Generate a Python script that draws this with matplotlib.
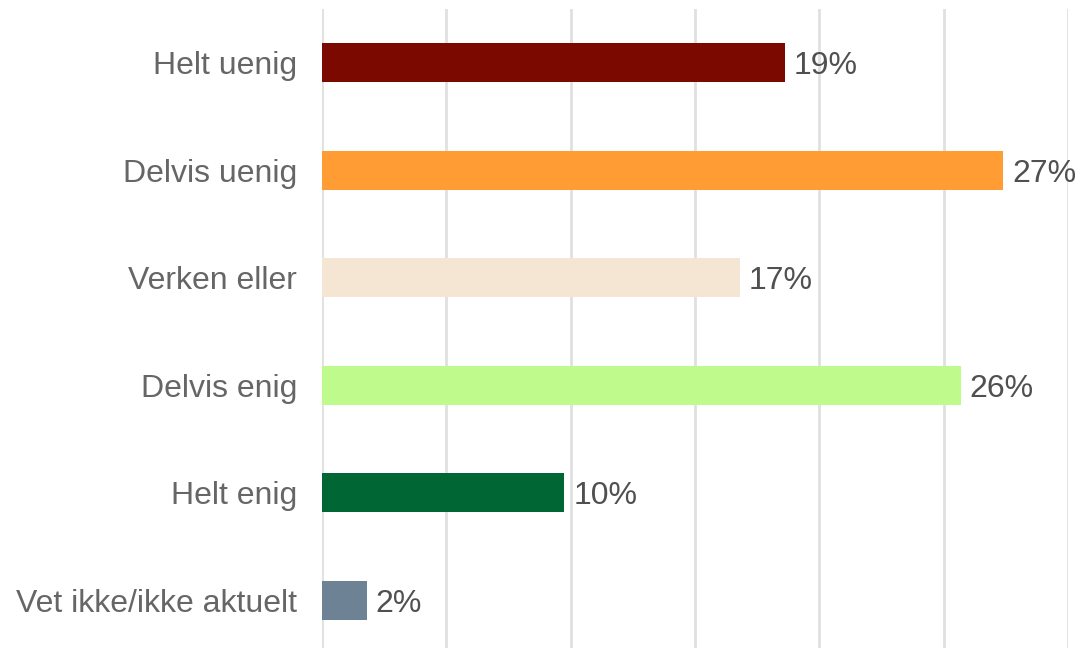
import numpy as np
import matplotlib
import matplotlib.pyplot as plt

matplotlib.rcParams['font.family'] = ['Liberation Sans', 'DejaVu Sans']

categories = ['Helt uenig', 'Delvis uenig', 'Verken eller', 'Delvis enig',
              'Helt enig', 'Vet ikke/ikke aktuelt']
values = [18.6, 27.4, 16.8, 25.7, 9.75, 1.8]
colors = ['#7B0900', '#FF9C33', '#F5E6D3', '#BFFA8C', '#006633', '#6E8296']

fig = plt.figure(figsize=(10.76, 6.48), dpi=100)
ax = fig.add_axes([322 / 1076, -6 / 648, 746 / 1076, 645 / 648])

y = np.arange(len(categories))
bars = ax.barh(y, values, height=0.362, color=colors, zorder=3)

for b, v in zip(bars, values):
    ax.text(b.get_width() + 0.35, b.get_y() + b.get_height() / 2, f'{v:.0f}%',
            va='center_baseline', ha='left', fontsize=23, color='#505050', zorder=4)

ax.set_xlim(0, 30)
ax.set_ylim(len(categories) - 0.5, -0.5)
ax.set_xticks(np.arange(0, 31, 5))
ax.set_xticklabels([])
ax.set_yticks(y)
ax.set_yticklabels(categories, fontsize=23, color='#666666', va='center_baseline')
ax.tick_params(axis='y', length=0, pad=18)
ax.tick_params(axis='x', length=0)
ax.grid(axis='x', color='#E0E0E0', linewidth=2, zorder=0)
for s in ax.spines.values():
    s.set_visible(False)

plt.savefig('out.png', dpi=100)
